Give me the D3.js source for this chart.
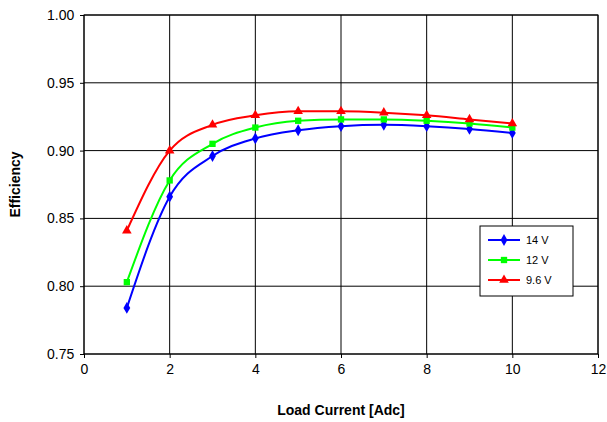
<!DOCTYPE html><html><head><script src="https://cdn.jsdelivr.net/npm/d3@7"></script>
<style>body{margin:0;background:#fff}text{font-family:Arial,"Liberation Sans",sans-serif}</style></head><body>
<svg id="c" width="607" height="422"></svg>
<script>
const xs=[1,2,3,4,5,6,7,8,9,10];
const v14=[0.784,0.866,0.896,0.909,0.915,0.918,0.919,0.918,0.916,0.913];
const v12=[0.803,0.878,0.905,0.917,0.922,0.923,0.923,0.922,0.920,0.917];
const v96=[0.841,0.900,0.919,0.926,0.929,0.929,0.928,0.926,0.923,0.920];
const xTicks=[0,2,4,6,8,10,12];
const yTicks=[0.75,0.80,0.85,0.90,0.95,1.00];
const series=[{name:"14 V",v:v14,c:"#0000ff",s:d3.symbolDiamond},{name:"12 V",v:v12,c:"#00ff00",s:d3.symbolSquare},{name:"9.6 V",v:v96,c:"#ff0000",s:d3.symbolTriangle}];
const svg=d3.select("#c");
const L=84,R=598,T=15,B=354;
const x=d3.scaleLinear().domain([0,12]).range([L,R]);
const y=d3.scaleLinear().domain([0.75,1]).range([B,T]);
const g=svg.append("g");
xTicks.forEach(t=>g.append("line").attr("x1",x(t)).attr("x2",x(t)).attr("y1",T).attr("y2",B).attr("stroke","#000").attr("stroke-width",1));
yTicks.forEach(t=>g.append("line").attr("x1",L).attr("x2",R).attr("y1",y(t)).attr("y2",y(t)).attr("stroke","#000").attr("stroke-width",1));
g.append("rect").attr("x",L).attr("y",T).attr("width",R-L).attr("height",B-T).attr("fill","none").attr("stroke","#000");
svg.append("g").attr("transform",`translate(0,${B})`).call(d3.axisBottom(x).tickValues(xTicks).tickSize(4).tickFormat(d3.format("d"))).call(a=>a.select(".domain").remove()).selectAll("text").attr("font-size",14).attr("dy","0.9em");
svg.append("g").attr("transform",`translate(${L},0)`).call(d3.axisLeft(y).tickValues(yTicks).tickSize(4).tickFormat(d3.format(".2f"))).call(a=>a.select(".domain").remove()).selectAll("text").attr("font-size",14).attr("dx","-0.2em");
series.forEach(s=>{
 svg.append("path").datum(s.v).attr("fill","none").attr("stroke",s.c).attr("stroke-width",2)
  .attr("d",d3.line().x((d,i)=>x(xs[i])).y(d=>y(d)).curve(d3.curveMonotoneX));
 svg.selectAll(null).data(s.v).join("path").attr("transform",(d,i)=>`translate(${x(xs[i])},${y(d)})`)
  .attr("d",d3.symbol().type(s.s).size(40)).attr("fill",s.c);
});
svg.append("text").attr("x",(L+R)/2).attr("y",415).attr("text-anchor","middle").attr("font-size",14).attr("font-weight","bold").text("Load Current [Adc]");
svg.append("text").attr("transform",`translate(20,${(T+B)/2}) rotate(-90)`).attr("text-anchor","middle").attr("font-size",14).attr("font-weight","bold").text("Efficiency");
const lg=svg.append("g").attr("transform","translate(480,226)");
lg.append("rect").attr("width",93).attr("height",70).attr("fill","#fff").attr("stroke","#000");
series.forEach((s,i)=>{
 const yy=14+i*20;
 lg.append("line").attr("x1",8).attr("x2",40).attr("y1",yy).attr("y2",yy).attr("stroke",s.c).attr("stroke-width",2);
 lg.append("path").attr("transform",`translate(24,${yy})`).attr("d",d3.symbol().type(s.s).size(40)).attr("fill",s.c);
 lg.append("text").attr("x",46).attr("y",yy+4).attr("font-size",11).text(s.name);
});
</script></body></html>
